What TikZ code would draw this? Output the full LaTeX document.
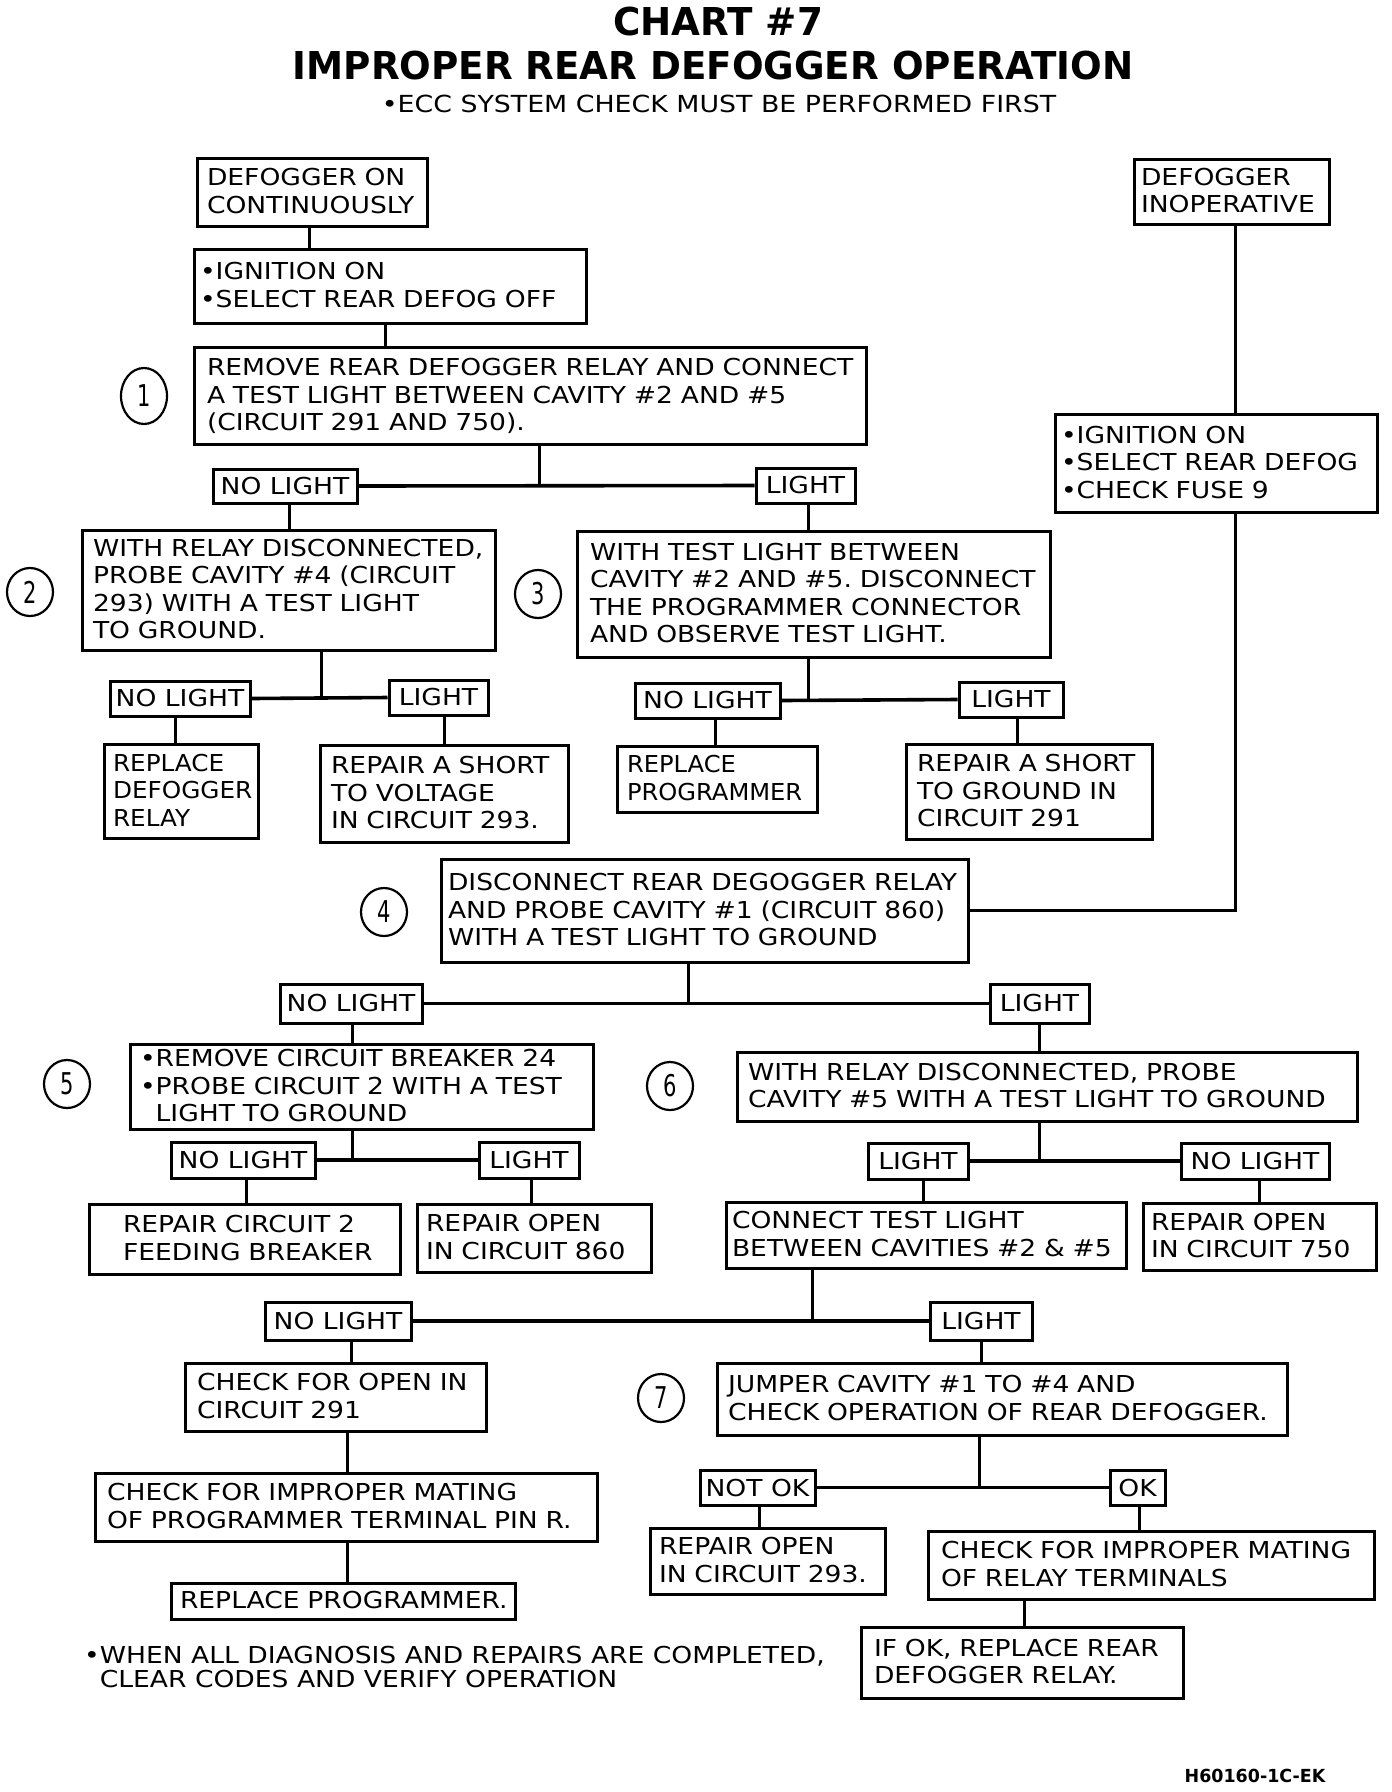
\documentclass[tikz,border=0pt]{standalone}
\usepackage{fontspec}
\usepackage{graphicx}
\newfontfamily\bodyfont[FakeStretch=1.14]{DejaVu Sans}
\newfontfamily\titlefont[FakeStretch=0.97]{DejaVu Sans}
\newfontfamily\numfont[FakeStretch=0.7]{DejaVu Sans}
\usetikzlibrary{shapes.geometric}
\frenchspacing
\tikzset{
 bx/.style={draw, line width=3pt, rectangle, inner ysep=0pt, align=left, font=\bodyfont\fontsize{23.3}{27.5}\selectfont},
 lb/.style={draw, line width=3pt, rectangle, inner sep=0pt, align=center, font=\bodyfont\fontsize{23.3}{27.5}\selectfont},
 num/.style={draw, ellipse, line width=2.2pt, inner sep=0pt, minimum width=46pt, minimum height=48pt, font=\numfont\fontsize{30}{30}\selectfont},
 con/.style={line width=3pt},
 br/.style={line width=3.6pt},
 plain/.style={inner sep=0pt, align=left, font=\bodyfont\fontsize{23.3}{24}\selectfont}
}
\newcommand\mybox[8][1]{%
 \pgfmathsetmacro\bxw{#6-#4}\pgfmathsetmacro\bxh{#7-#5}\pgfmathsetmacro\bxt{#6-#4-2*#3}%
 \pgfmathsetmacro\bxcx{(#4+#6)/2}\pgfmathsetmacro\bxcy{(#5+#7)/2}%
 \node[bx,inner xsep=#3pt,minimum width=\bxw pt,minimum height=\bxh pt,text width=\bxt pt] (#2) at (\bxcx,\bxcy) {\raisebox{-2pt}[\height][\depth]{\scalebox{#1}[1]{\begin{tabular}{@{}l@{}}#8\end{tabular}}}};}
\newcommand\mylbl[6]{%
 \pgfmathsetmacro\bxw{#4-#2}\pgfmathsetmacro\bxh{#5-#3}%
 \pgfmathsetmacro\bxcx{(#2+#4)/2}\pgfmathsetmacro\bxcy{(#3+#5)/2}%
 \node[lb,minimum width=\bxw pt,minimum height=\bxh pt] (#1) at (\bxcx,\bxcy) {#6};}
\begin{document}
\begin{tikzpicture}[x=1pt,y=-1pt]
\useasboundingbox (0,0) rectangle (1392,1792);
% titles
\node[inner sep=0pt, font=\titlefont\bfseries\fontsize{38.4}{40}\selectfont] (t1) at (718,22) {CHART \#7};
\node[inner sep=0pt, font=\titlefont\bfseries\fontsize{38.4}{40}\selectfont] (t2) at (713,66) {IMPROPER REAR DEFOGGER OPERATION};
\node[inner sep=0pt, font=\bodyfont\fontsize{23.5}{24}\selectfont] (sub) at (719,104) {•ECC SYSTEM CHECK MUST BE PERFORMED FIRST};
% left column top
\mybox{A}{10}{197}{158}{427}{226}{DEFOGGER ON\\CONTINUOUSLY}
\mybox{B}{6}{194}{249}{586}{323}{•IGNITION ON\\•SELECT REAR DEFOG OFF}
\mybox{b1}{13}{194}{347}{866}{444}{REMOVE REAR DEFOGGER RELAY AND CONNECT\\A TEST LIGHT BETWEEN CAVITY \#2 AND \#5\\(CIRCUIT 291 AND 750).}
\node[num, minimum height=56pt] (c1) at (144,396) {1};
\mylbl{nl1}{213}{469}{357}{503}{NO LIGHT}
\mylbl{l1}{756}{468}{855}{503}{LIGHT}
\mybox{b2}{11}{82}{530}{495}{650}{WITH RELAY DISCONNECTED,\\PROBE CAVITY \#4 (CIRCUIT\\293) WITH A TEST LIGHT\\TO GROUND.}
\node[num] (c2) at (30,592) {2};
\mybox{b3}{13}{577}{531}{1050}{657}{WITH TEST LIGHT BETWEEN\\CAVITY \#2 AND \#5. DISCONNECT\\THE PROGRAMMER CONNECTOR\\AND OBSERVE TEST LIGHT.}
\node[num] (c3) at (538,594) {3};
\mylbl{nl2}{110}{681}{250}{716}{NO LIGHT}
\mylbl{l2}{389}{680}{488}{715}{LIGHT}
\mybox[0.93]{rdr}{9}{104}{744}{258}{838}{REPLACE\\DEFOGGER\\RELAY}
\mybox{rsv}{11}{320}{745}{568}{842}{REPAIR A SHORT\\TO VOLTAGE\\IN CIRCUIT 293.}
\mylbl{nl3}{635}{683}{780}{718}{NO LIGHT}
\mylbl{l3}{959}{682}{1063}{717}{LIGHT}
\mybox[0.91]{rp}{10}{617}{746}{817}{812}{REPLACE\\PROGRAMMER}
\mybox{rsg}{11}{906}{744}{1152}{839}{REPAIR A SHORT\\TO GROUND IN\\CIRCUIT 291}
% right column
\mybox{dinop}{7}{1134}{159}{1329}{224}{DEFOGGER\\INOPERATIVE}
\mybox{ign2}{6}{1055}{414}{1377}{512}{•IGNITION ON\\•SELECT REAR DEFOG\\•CHECK FUSE 9}
% step 4
\mybox{b4}{7}{441}{859}{968}{962}{DISCONNECT REAR DEGOGGER RELAY\\AND PROBE CAVITY \#1 (CIRCUIT 860)\\WITH A TEST LIGHT TO GROUND}
\node[num] (c4) at (384,912) {4};
\mylbl{nl4}{280}{984}{422}{1023}{NO LIGHT}
\mylbl{l4}{990}{984}{1089}{1023}{LIGHT}
\mybox{b5}{10}{130}{1044}{593}{1129}{•REMOVE CIRCUIT BREAKER 24\\•PROBE CIRCUIT 2 WITH A TEST\\\hphantom{•}LIGHT TO GROUND}
\node[num] (c5) at (67,1084) {5};
\mybox{b6}{11}{737}{1052}{1357}{1121}{WITH RELAY DISCONNECTED, PROBE\\CAVITY \#5 WITH A TEST LIGHT TO GROUND}
\node[num] (c6) at (670,1086) {6};
\mylbl{nl5}{171}{1142}{315}{1178}{NO LIGHT}
\mylbl{l5}{479}{1142}{579}{1178}{LIGHT}
\mylbl{l6}{868}{1143}{968}{1179}{LIGHT}
\mylbl{nl6}{1181}{1143}{1329}{1179}{NO LIGHT}
\mybox{rc2}{34}{89}{1204}{400}{1274}{REPAIR CIRCUIT 2\\FEEDING BREAKER}
\mybox{ro860}{9}{417}{1204}{651}{1272}{REPAIR OPEN\\IN CIRCUIT 860}
\mybox{ctl}{6}{726}{1202}{1126}{1268}{CONNECT TEST LIGHT\\BETWEEN CAVITIES \#2 \& \#5}
\mybox{ro750}{8}{1143}{1203}{1376}{1270}{REPAIR OPEN\\IN CIRCUIT 750}
\mylbl{nl7}{265}{1302}{411}{1340}{NO LIGHT}
\mylbl{l7}{930}{1302}{1032}{1340}{LIGHT}
\mybox{co291}{12}{185}{1363}{486}{1431}{CHECK FOR OPEN IN\\CIRCUIT 291}
\mybox{cim}{12}{95}{1473}{597}{1541}{CHECK FOR IMPROPER MATING\\OF PROGRAMMER TERMINAL PIN R.}
\mybox{rprog2}{9}{171}{1583}{515}{1619}{REPLACE PROGRAMMER.}
\mybox{jump}{11}{717}{1363}{1287}{1435}{JUMPER CAVITY \#1 TO \#4 AND\\CHECK OPERATION OF REAR DEFOGGER.}
\node[num] (c7) at (661,1398) {7};
\mylbl{notok}{700}{1470}{815}{1505}{NOT OK}
\mylbl{ok}{1110}{1470}{1165}{1505}{OK}
\mybox{ro293}{9}{650}{1528}{885}{1594}{REPAIR OPEN\\IN CIRCUIT 293.}
\mybox{crt}{13}{928}{1531}{1374}{1599}{CHECK FOR IMPROPER MATING\\OF RELAY TERMINALS}
\mybox{ifok}{13}{861}{1627}{1183}{1698}{IF OK, REPLACE REAR\\DEFOGGER RELAY.}
% footnote and code
\node[plain, anchor=north west] (fn) at (84,1646) {•WHEN ALL DIAGNOSIS AND REPAIRS ARE COMPLETED,\\\hphantom{•}CLEAR CODES AND VERIFY OPERATION};
\node[inner sep=0pt, font=\titlefont\bfseries\fontsize{18}{18}\selectfont] (code) at (1255,1776) {H60160-1C-EK};
% connectors
\draw[con] (A.south -| 309,0) -- (B.north -| 309,0);
\draw[con] (B.south -| 385,0) -- (b1.north -| 385,0);
\draw[con] (b1.south -| 539,0) -- (nl1.east -| 539,0);
\draw[br] (nl1.east) -- (l1.west);
\draw[con] (nl1.south -| 289,0) -- (b2.north -| 289,0);
\draw[con] (l1.south -| 808,0) -- (b3.north -| 808,0);
\draw[con] (b2.south -| 321,0) -- (nl2.east -| 321,0);
\draw[br] (nl2.east) -- (l2.west);
\draw[con] (nl2.south -| 175,0) -- (rdr.north -| 175,0);
\draw[con] (l2.south -| 444,0) -- (rsv.north -| 444,0);
\draw[con] (b3.south -| 808,0) -- (nl3.east -| 808,0);
\draw[br] (nl3.east) -- (l3.west);
\draw[con] (nl3.south -| 715,0) -- (rp.north -| 715,0);
\draw[con] (l3.south -| 1017,0) -- (rsg.north -| 1017,0);
\draw[con] (dinop.south -| 1235,0) -- (ign2.north -| 1235,0);
\draw[con] (ign2.south -| 1235,0) |- (b4.east);
\draw[con] (b4.south -| 688,0) -- (nl4.east -| 688,0);
\draw[br] (nl4.east) -- (l4.west);
\draw[con] (nl4.south -| 352,0) -- (b5.north -| 352,0);
\draw[con] (l4.south -| 1039,0) -- (b6.north -| 1039,0);
\draw[con] (b5.south -| 352,0) -- (nl5.east -| 352,0);
\draw[br] (nl5.east) -- (l5.west);
\draw[con] (nl5.south -| 246,0) -- (rc2.north -| 246,0);
\draw[con] (l5.south -| 531,0) -- (ro860.north -| 531,0);
\draw[con] (b6.south -| 1039,0) -- (l6.east -| 1039,0);
\draw[br] (l6.east) -- (nl6.west);
\draw[con] (l6.south -| 923,0) -- (ctl.north -| 923,0);
\draw[con] (nl6.south -| 1259,0) -- (ro750.north -| 1259,0);
\draw[con] (ctl.south -| 812,0) -- (nl7.east -| 812,0);
\draw[br] (nl7.east) -- (l7.west);
\draw[con] (nl7.south -| 351,0) -- (co291.north -| 351,0);
\draw[con] (l7.south -| 981,0) -- (jump.north -| 981,0);
\draw[con] (co291.south -| 347,0) -- (cim.north -| 347,0);
\draw[con] (cim.south -| 347,0) -- (rprog2.north -| 347,0);
\draw[con] (jump.south -| 979,0) -- (notok.east -| 979,0);
\draw[br] (notok.east) -- (ok.west);
\draw[con] (notok.south -| 759,0) -- (ro293.north -| 759,0);
\draw[con] (ok.south -| 1139,0) -- (crt.north -| 1139,0);
\draw[con] (crt.south -| 1024,0) -- (ifok.north -| 1024,0);
\end{tikzpicture}
\end{document}
